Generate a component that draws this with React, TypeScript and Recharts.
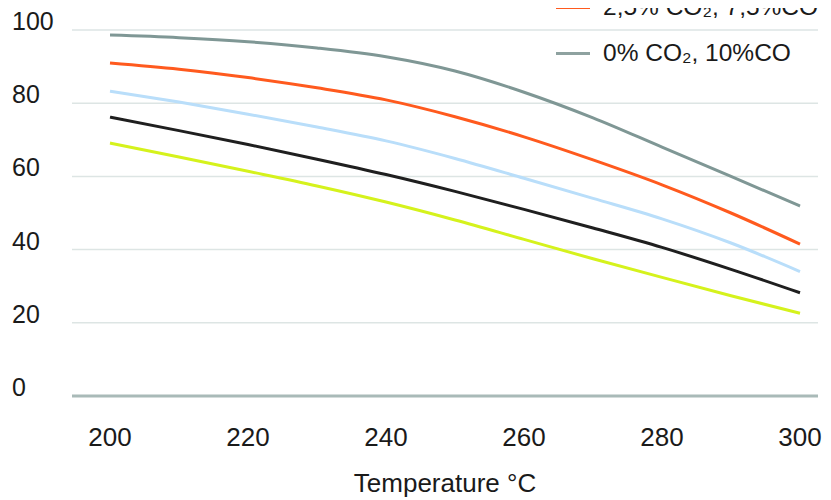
import React from 'react';
import { LineChart, Line, XAxis, YAxis, CartesianGrid, Legend } from 'recharts';

const temperatures = [200, 210, 220, 230, 240, 250, 260, 270, 280, 290, 300];
const co2_0 = [98.6, 97.9, 96.8, 95.1, 92.7, 88.8, 83, 76, 68, 60, 51.9];
const co2_25 = [91, 89.3, 87, 84.2, 80.9, 76.3, 70.8, 64.5, 57.7, 50, 41.5];
const co2_5 = [83.3, 80.3, 77, 73.5, 69.7, 64.9, 59.5, 54, 48.4, 41.8, 34];
const co2_75 = [76.2, 72.5, 68.7, 64.7, 60.5, 55.9, 51, 45.9, 40.6, 34.6, 28.2];
const co2_10 = [69.1, 65.3, 61.4, 57.4, 53, 48.1, 42.8, 37.5, 32.4, 27.4, 22.6];

const xTicks = [200, 220, 240, 260, 280, 300];
const yTicks = [0, 20, 40, 60, 80, 100];

const series = [
  { key: 's10', name: '10% CO₂, 0%CO', color: '#d5f21c', values: co2_10 },
  { key: 's75', name: '7,5% CO₂, 2,5%CO', color: '#1f1f1f', values: co2_75 },
  { key: 's5', name: '5% CO₂, 5%CO', color: '#b9defa', values: co2_5 },
  { key: 's25', name: '2,5% CO₂, 7,5%CO', color: '#ff5a1e', values: co2_25 },
  { key: 's0', name: '0% CO₂, 10%CO', color: '#7f9795', values: co2_0 },
];

const data = temperatures.map((t, i) => {
  const row: Record<string, number> = { t };
  series.forEach((s) => {
    row[s.key] = s.values[i];
  });
  return row;
});

const FONT = '"Liberation Sans", Arial, sans-serif';
const TEXT = '#1a1a1a';

const YTick = (props: any) => {
  const { y, payload } = props;
  return (
    <text x={12} y={y - 9} textAnchor="start" dominantBaseline="central" fontSize={25} fill={TEXT} fontFamily={FONT}>
      {payload.value}
    </text>
  );
};

const XTick = (props: any) => {
  const { x, payload } = props;
  return (
    <text x={x} y={437} textAnchor="middle" dominantBaseline="central" fontSize={26} fill={TEXT} fontFamily={FONT}>
      {payload.value}
    </text>
  );
};

const LegendContent = () => (
  <div style={{ fontFamily: FONT }}>
    {series.map((s) => (
      <div key={s.key} style={{ height: 46, display: 'flex', alignItems: 'center' }}>
        <div style={{ width: 34, height: 3, background: s.key === 's0' ? '#8ea2a0' : s.color, marginRight: 13 }} />
        <span style={{ fontSize: 24.5, color: TEXT, whiteSpace: 'nowrap' }}>{s.name}</span>
      </div>
    ))}
  </div>
);

export default function App() {
  return (
    <div style={{ marginTop: -8, marginLeft: -8, width: 831, height: 500 }}>
      <LineChart width={831} height={500} data={data} margin={{ top: 30, right: 13, left: 0, bottom: 0 }}>
        <CartesianGrid vertical={false} stroke="#dde5e4" strokeWidth={1.5} />
        <XAxis
          dataKey="t"
          type="number"
          domain={[200, 300]}
          ticks={xTicks}
          padding={{ left: 38, right: 18 }}
          height={104}
          tickLine={false}
          axisLine={{ stroke: '#a9bab8', strokeWidth: 3 }}
          tick={<XTick />}
          label={{ value: 'Temperature °C', position: 'insideBottom', offset: 8, fill: TEXT, fontSize: 26, fontFamily: FONT }}
        />
        <YAxis
          width={72}
          domain={[0, 100]}
          ticks={yTicks}
          axisLine={false}
          tickLine={false}
          tick={<YTick />}
        />
        <Legend
          layout="vertical"
          align="center"
          verticalAlign="middle"
          content={<LegendContent />}
          wrapperStyle={{ top: -154, left: 556, width: 275 }}
        />
        {series.map((s) => (
          <Line
            key={s.key}
            type="monotone"
            dataKey={s.key}
            name={s.name}
            stroke={s.color}
            strokeWidth={3}
            dot={false}
            activeDot={false}
            isAnimationActive={false}
          />
        ))}
      </LineChart>
    </div>
  );
}
